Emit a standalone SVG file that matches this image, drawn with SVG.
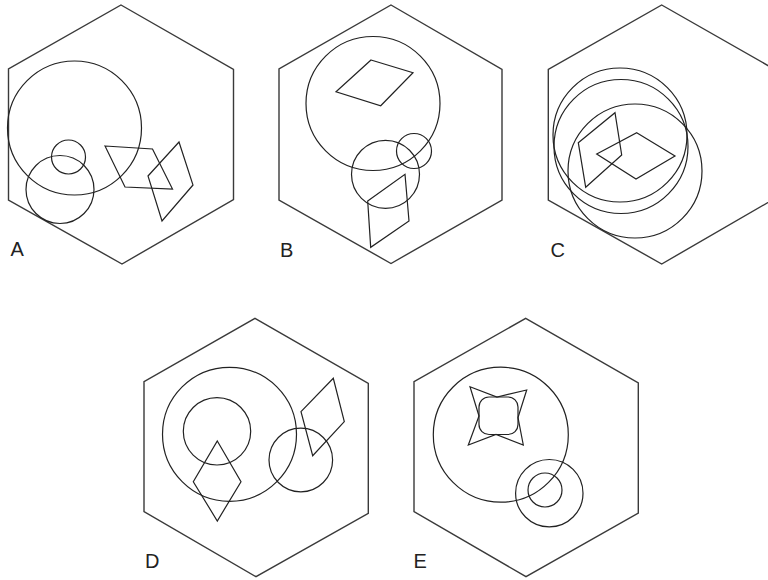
<svg xmlns="http://www.w3.org/2000/svg" width="768" height="580" viewBox="0 0 768 580">
<style>
.hex{fill:none;stroke:#3a3a3a;stroke-width:1.4;stroke-linejoin:miter}
.s{fill:none;stroke:#222;stroke-width:1.2;stroke-linejoin:miter}
.lbl{font-family:"Liberation Sans",Arial,sans-serif;font-size:20px;fill:#222}
</style>
<rect width="768" height="580" fill="#fff"/>
<g id="figA">
<polygon class="hex" points="121,5 233.5,69.5 233.5,199.5 122,264 8.5,200 8.5,69"/>
<circle class="s" cx="74.5" cy="128" r="67"/>
<circle class="s" cx="68.5" cy="157" r="17"/>
<circle class="s" cx="60" cy="189.5" r="34"/>
<polygon class="s" points="105,146 152.5,149 172.5,189 125,187"/>
<polygon class="s" points="179,142 193,185 162,221 148,176"/>
<text class="lbl" x="10.5" y="256">A</text>
</g>
<g id="figB">
<polygon class="hex" points="391,5 502,69.5 502,200 391,263.5 279,200 279,69"/>
<circle class="s" cx="373" cy="103.5" r="67"/>
<polygon class="s" points="371,60 413,72.7 380.7,105.7 336,91.7"/>
<circle class="s" cx="385.5" cy="174.3" r="34"/>
<circle class="s" cx="414" cy="151" r="17.5"/>
<polygon class="s" points="367.7,201 405,174.3 409,221 370.7,247.3"/>
<text class="lbl" x="280" y="257">B</text>
</g>
<g id="figC">
<polygon class="hex" points="661.7,5 774,69 774,199 661.7,264 548.3,200 548.3,69.3"/>
<circle class="s" cx="620" cy="135" r="67"/>
<circle class="s" cx="621" cy="146.5" r="67"/>
<circle class="s" cx="635" cy="171" r="67"/>
<polygon class="s" points="578.3,142.7 615,112.7 621.7,155 585.7,187.3"/>
<polygon class="s" points="636.7,132.7 675,156 636,179 596.7,154"/>
<text class="lbl" x="550.5" y="257">C</text>
</g>
<g id="figD">
<polygon class="hex" points="255,318.3 368.3,383.3 368.3,513.3 256,576.7 144,511.7 144,381.7"/>
<circle class="s" cx="229.5" cy="434.3" r="67"/>
<circle class="s" cx="217" cy="431.3" r="33.7"/>
<polygon class="s" points="217.3,441 241,481.7 217.3,521 193.3,481.7"/>
<circle class="s" cx="300.8" cy="460" r="31.8"/>
<polygon class="s" points="301,411.7 333.3,378.3 344.3,421.7 312.7,455.7"/>
<text class="lbl" x="145" y="568">D</text>
</g>
<g id="figE">
<polygon class="hex" points="525.7,318.3 638.3,383 638.3,513 526,576.7 414,511.7 414,381.7"/>
<circle class="s" cx="500.8" cy="434.7" r="67.5"/>
<circle class="s" cx="549.3" cy="493.2" r="33.7"/>
<circle class="s" cx="545" cy="490" r="17"/>
<polygon class="s" points="470,386.7 497,397 526.7,390 518,417.5 523.3,445 496,434.5 468.3,445 479,416"/>
<rect class="s" x="479" y="397" width="39" height="37.5" rx="10"/>
<text class="lbl" x="413.5" y="568">E</text>
</g>
</svg>
